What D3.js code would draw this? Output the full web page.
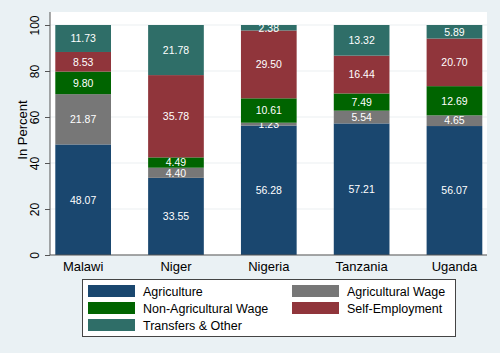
<!DOCTYPE html>
<html>
<head>
<meta charset="utf-8">
<script src="https://cdn.jsdelivr.net/npm/d3@7"></script>
<style>
    body { margin: 0; background: #eaf1f4; }
    svg { display: block; font-family: "Liberation Sans", Arial, sans-serif; }
</style>
</head>
<body>
<script>
var countries = ["Malawi", "Niger", "Nigeria", "Tanzania", "Uganda"];
var sources = ["Agriculture", "Agricultural Wage", "Non-Agricultural Wage", "Self-Employment", "Transfers & Other"];
var agriculture = [48.07, 33.55, 56.28, 57.21, 56.07];
var agWage = [21.87, 4.40, 1.23, 5.54, 4.65];
var nonAgWage = [9.80, 4.49, 10.61, 7.49, 12.69];
var selfEmployment = [8.53, 35.78, 29.50, 16.44, 20.70];
var transfers = [11.73, 21.78, 2.38, 13.32, 5.89];
var yTicks = [0, 20, 40, 60, 80, 100];

function init(){
    var w = 500;
    var h = 353;
    var colors = ["#1a476f", "#777777", "#006400", "#90353b", "#2f6e68"];
    var plotLeft = 50, plotRight = 487, plotTop = 12, plotBottom = 255;

    // build rows for the stack from the named arrays
    var dataset = countries.map(function(c, i) {
        var row = { country: c };
        row[sources[0]] = agriculture[i];
        row[sources[1]] = agWage[i];
        row[sources[2]] = nonAgWage[i];
        row[sources[3]] = selfEmployment[i];
        row[sources[4]] = transfers[i];
        return row;
    });

    var series = d3.stack().keys(sources)(dataset);

    var xScale = d3.scaleBand()
                   .domain(countries)
                   .range([55.3, 482.3])
                   .paddingInner(0.4)
                   .paddingOuter(0);

    var yScale = d3.scaleLinear()
                   .domain([0, 100])
                   .range([plotBottom, 25]);

    var color = d3.scaleOrdinal().domain(sources).range(colors);

    var svg = d3.select("body")
                .append("svg")
                .attr("width", w)
                .attr("height", h);

    svg.append("rect")
       .attr("x", 0).attr("y", 0)
       .attr("width", w).attr("height", h)
       .attr("fill", "#eaf1f4");

    // plot region
    svg.append("rect")
       .attr("x", plotLeft).attr("y", plotTop)
       .attr("width", plotRight - plotLeft).attr("height", plotBottom - plotTop)
       .attr("fill", "#ffffff");

    // gridlines
    svg.append("g")
       .selectAll("line")
       .data(yTicks)
       .enter()
       .append("line")
       .attr("x1", plotLeft).attr("x2", plotRight)
       .attr("y1", function(d) { return yScale(d); })
       .attr("y2", function(d) { return yScale(d); })
       .attr("stroke", "#ebeff1")
       .attr("stroke-width", 1);

    var groups = svg.selectAll("g.series")
                    .data(series)
                    .enter()
                    .append("g")
                    .attr("class", "series")
                    .style("fill", function(d) { return color(d.key); });

    groups.selectAll("rect")
          .data(function(d) { return d; })
          .enter()
          .append("rect")
          .attr("x", function(d) { return xScale(d.data.country); })
          .attr("y", function(d) { return yScale(d[1]); })
          .attr("height", function(d) { return yScale(d[0]) - yScale(d[1]); })
          .attr("width", xScale.bandwidth());

    // value labels
    groups.selectAll("text")
          .data(function(d) { return d; })
          .enter()
          .append("text")
          .attr("x", function(d) { return xScale(d.data.country) + xScale.bandwidth() / 2; })
          .attr("y", function(d) { return yScale((d[0] + d[1]) / 2) + 3.8; })
          .attr("text-anchor", "middle")
          .style("fill", "#ffffff")
          .style("font-size", "10.5px")
          .text(function(d) { return (d[1] - d[0]).toFixed(2); });

    // y axis
    var yAxis = d3.axisLeft(yScale)
                  .tickValues(yTicks)
                  .tickSize(5)
                  .tickPadding(4);

    var yg = svg.append("g")
                .attr("transform", "translate(" + plotLeft + ",0)")
                .call(yAxis);
    yg.select(".domain").attr("d", "M0," + plotTop + "V" + plotBottom).attr("stroke", "#555");
    yg.selectAll(".tick line").attr("stroke", "#555");
    yg.selectAll(".tick text")
      .attr("transform", "rotate(-90)")
      .attr("x", 0)
      .attr("y", -11.5)
      .attr("dy", 0)
      .attr("text-anchor", "middle")
      .style("font-size", "12px")
      .style("font-family", "Liberation Sans, Arial, sans-serif")
      .style("fill", "#000");

    // x axis
    var xAxis = d3.axisBottom(xScale).tickSize(0).tickPadding(6);
    var xg = svg.append("g")
                .attr("transform", "translate(0," + plotBottom + ")")
                .call(xAxis);
    xg.select(".domain").attr("d", "M" + plotLeft + ",0H" + plotRight).attr("stroke", "#555");
    xg.selectAll(".tick text")
      .attr("y", 16)
      .attr("dy", 0)
      .style("font-size", "13px")
      .style("font-family", "Liberation Sans, Arial, sans-serif")
      .style("fill", "#000");

    svg.append("text")
       .attr("transform", "translate(27,130) rotate(-90)")
       .attr("text-anchor", "middle")
       .style("font-size", "13px")
       .text("In Percent");

    // legend
    var legend = svg.append("g");
    legend.append("rect")
          .attr("x", 82.5).attr("y", 279.5)
          .attr("width", 373).attr("height", 57)
          .attr("fill", "#ffffff")
          .attr("stroke", "#444")
          .attr("stroke-width", 1);

    var items = legend.selectAll("g.item")
                      .data(sources)
                      .enter()
                      .append("g")
                      .attr("class", "item")
                      .attr("transform", function(d, i) {
                          var col = i % 2, row = Math.floor(i / 2);
                          return "translate(" + (col === 0 ? 88 : 292) + "," + (285 + row * 17) + ")";
                      });
    items.append("rect")
         .attr("width", 47).attr("height", 12)
         .attr("fill", function(d) { return color(d); });
    items.append("text")
         .attr("x", 55).attr("y", 10.5)
         .style("font-size", "12.5px")
         .text(function(d) { return d; });
}
window.onload = init;
</script>
</body>
</html>
